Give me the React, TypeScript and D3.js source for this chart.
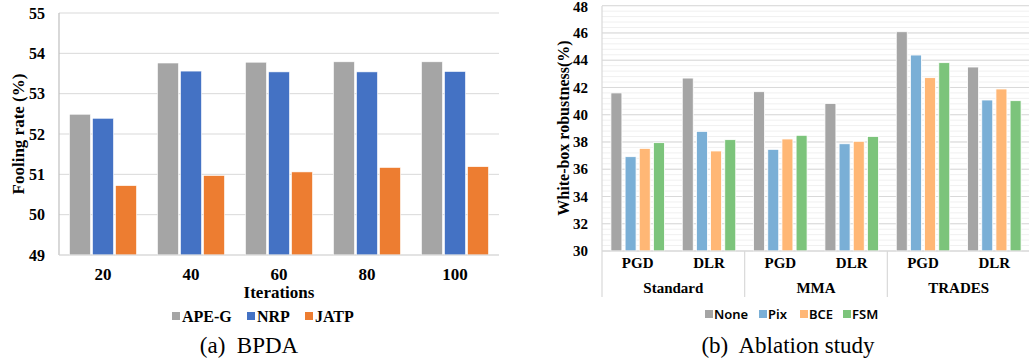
import * as d3 from "d3";

// (a) BPDA
const iterations = ["20", "40", "60", "80", "100"];
const apeG = [52.49, 53.76, 53.78, 53.79, 53.79];
const nrp = [52.39, 53.56, 53.54, 53.54, 53.55];
const jatp = [50.72, 50.97, 51.06, 51.17, 51.19];
const bpdaNames = ["APE-G", "NRP", "JATP"];
const bpdaColors = ["#A5A5A5", "#4472C4", "#ED7D31"];
const bpdaTicks = [49, 50, 51, 52, 53, 54, 55];

// (b) Ablation study
const defenses = ["Standard", "MMA", "TRADES"];
const attacks = ["PGD", "DLR"];
const noneVals = [41.6, 42.69, 41.69, 40.83, 46.09, 43.5];
const pixVals = [36.92, 38.78, 37.46, 37.87, 44.38, 41.08];
const bceVals = [37.53, 37.34, 38.22, 38.05, 42.72, 41.89];
const fsmVals = [37.95, 38.17, 38.49, 38.41, 43.82, 41.03];
const ablNames = ["None", "Pix", "BCE", "FSM"];
const ablColors = ["#A5A5A5", "#7AAFD6", "#FFB775", "#7CC47B"];
const ablTicks = [30, 32, 34, 36, 38, 40, 42, 44, 46, 48];

const serif = "'Liberation Serif', 'Times New Roman', serif";
const sans = "'Noto Sans', 'Open Sans', sans-serif";

function Bpda() {
  const series = [apeG, nrp, jatp];
  const x = d3.scaleBand().domain(iterations).range([59, 499]).paddingInner(0.239).paddingOuter(0.1195);
  const xs = d3.scaleBand().domain(bpdaNames).range([0, x.bandwidth()]).paddingInner(0.09);
  const y = d3.scaleLinear().domain([49, 55]).range([255, 13]);

  // legend layout
  const legendX = [172, 247, 305];

  return (
    <g>
      {bpdaTicks.map((t) => (
        <line key={t} x1={59} x2={499} y1={y(t)} y2={y(t)} stroke="#D9D9D9" strokeWidth={1} />
      ))}
      <line x1={59} x2={59} y1={13} y2={255} stroke="#BFBFBF" strokeWidth={1.2} />
      {iterations.map((it, i) => (
        <g key={it} transform={`translate(${x(it)},0)`}>
          {series.map((s, k) => (
            <rect
              key={k}
              x={xs(bpdaNames[k])}
              y={y(s[i])}
              width={xs.bandwidth()}
              height={y(49) - y(s[i])}
              fill={bpdaColors[k]}
              stroke="#fff"
              strokeWidth={0.6}
            />
          ))}
        </g>
      ))}
      <line x1={59} x2={499} y1={255} y2={255} stroke="#D9D9D9" strokeWidth={1.2} />
      {bpdaTicks.map((t) => (
        <text key={t} x={45} y={y(t)} dy="0.35em" textAnchor="end" fontFamily={serif} fontWeight="bold" fontSize={16}>
          {t}
        </text>
      ))}
      {iterations.map((it) => (
        <text key={it} x={x(it)! + x.bandwidth() / 2} y={280} textAnchor="middle" fontFamily={serif} fontWeight="bold" fontSize={17}>
          {it}
        </text>
      ))}
      <text x={279} y={297.5} textAnchor="middle" fontFamily={serif} fontWeight="bold" fontSize={17}>
        Iterations
      </text>
      <text
        transform="translate(18,134) rotate(-90)"
        textAnchor="middle"
        dy="0.35em"
        fontFamily={serif}
        fontWeight="bold"
        fontSize={17}
      >
        Fooling rate (%)
      </text>
      {bpdaNames.map((n, k) => (
        <g key={n} transform={`translate(${legendX[k]},316)`}>
          <rect x={0} y={-4} width={8} height={8} fill={bpdaColors[k]} />
          <text x={10} y={0} dy="0.35em" fontFamily={serif} fontWeight="bold" fontSize={16}>
            {n}
          </text>
        </g>
      ))}
      <text x={249} y={353} textAnchor="middle" fontFamily={serif} fontSize={23}>
        (a)&#160; BPDA
      </text>
    </g>
  );
}

function Ablation() {
  const series = [noneVals, pixVals, bceVals, fsmVals];
  const cats = defenses.flatMap((d) => attacks.map((a) => `${d}|${a}`));
  const x = d3.scaleBand().domain(cats).range([602, 1030]).paddingInner(0.25).paddingOuter(0.125);
  const xs = d3.scaleBand().domain(ablNames).range([0, x.bandwidth()]).paddingInner(0.225);
  const y = d3.scaleLinear().domain([30, 48]).range([251, 5.7]);
  const minor = d3.range(30, 48.001, 0.4);
  const groupW = x.step() * attacks.length;

  const legendX = [705, 759, 800, 843];

  return (
    <g>
      {minor.map((t, i) => (
        <line key={i} x1={602} x2={1029} y1={y(t)} y2={y(t)} stroke="#F0F0F0" strokeWidth={1} />
      ))}
      {ablTicks.map((t) => (
        <line key={t} x1={602} x2={1029} y1={y(t)} y2={y(t)} stroke="#D9D9D9" strokeWidth={1} />
      ))}
      {cats.map((c, i) => (
        <g key={c} transform={`translate(${x(c)},0)`}>
          {series.map((s, k) => (
            <rect
              key={k}
              x={xs(ablNames[k])}
              y={y(s[i])}
              width={xs.bandwidth()}
              height={y(30) - y(s[i])}
              fill={ablColors[k]}
              stroke="#fff"
              strokeWidth={0.8}
            />
          ))}
        </g>
      ))}
      <line x1={602} x2={1029} y1={251} y2={251} stroke="#D9D9D9" strokeWidth={1.2} />
      <line x1={602} x2={602} y1={6} y2={297} stroke="#D9D9D9" strokeWidth={1.2} />
      {defenses.map((d, i) =>
        i > 0 ? (
          <line key={d} x1={602 + i * groupW} x2={602 + i * groupW} y1={251} y2={297} stroke="#D9D9D9" strokeWidth={1.2} />
        ) : null
      )}
      {ablTicks.map((t) => (
        <text key={t} x={588} y={Math.max(y(t), 7)} dy="0.35em" textAnchor="end" fontFamily={serif} fontWeight="bold" fontSize={15}>
          {t}
        </text>
      ))}
      {cats.map((c) => (
        <text key={c} x={x(c)! + x.bandwidth() / 2} y={268} textAnchor="middle" fontFamily={serif} fontWeight="bold" fontSize={15}>
          {c.split("|")[1]}
        </text>
      ))}
      {defenses.map((d, i) => (
        <text key={d} x={602 + (i + 0.5) * groupW} y={292.5} textAnchor="middle" fontFamily={serif} fontWeight="bold" fontSize={15}>
          {d}
        </text>
      ))}
      <text
        transform="translate(563,128) rotate(-90)"
        textAnchor="middle"
        dy="0.35em"
        fontFamily={serif}
        fontWeight="bold"
        fontSize={16}
      >
        White-box robustness(%)
      </text>
      {ablNames.map((n, k) => (
        <g key={n} transform={`translate(${legendX[k]},314)`}>
          <rect x={0} y={-4} width={8} height={8} fill={ablColors[k]} />
          <text x={9} y={0} dy="0.36em" fontFamily={sans} fontWeight={600} fontSize={13}>
            {n}
          </text>
        </g>
      ))}
      <text x={788} y={353} textAnchor="middle" fontFamily={serif} fontSize={23}>
        (b)&#160; Ablation study
      </text>
    </g>
  );
}

export default function App() {
  return (
    <svg
      width={1029}
      height={362}
      viewBox="0 0 1029 362"
      style={{ position: "absolute", left: 0, top: 0, background: "#fff" }}
    >
      <rect width={1029} height={362} fill="#fff" />
      <Bpda />
      <Ablation />
    </svg>
  );
}
